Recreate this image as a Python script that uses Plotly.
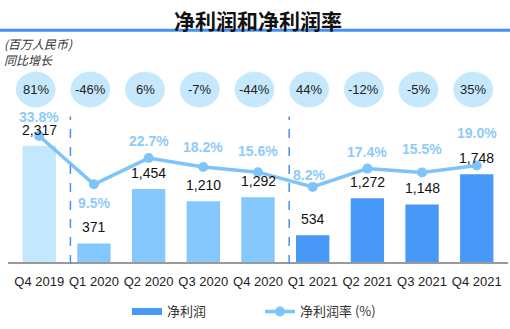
import plotly.graph_objects as go

categories = ["Q4 2019", "Q1 2020", "Q2 2020", "Q3 2020", "Q4 2020",
              "Q1 2021", "Q2 2021", "Q3 2021", "Q4 2021"]
net_profit = [2317, 371, 1454, 1210, 1292, 534, 1272, 1148, 1748]
net_margin = [33.8, 9.5, 22.7, 18.2, 15.6, 8.2, 17.4, 15.5, 19.0]
yoy_growth = ["81%", "-46%", "6%", "-7%", "-44%", "44%", "-12%", "-5%", "35%"]

bar_colors = ["#c3e7fd"] + ["#85c8fd"] * 4 + ["#4898f8"] * 4
LINE_C = "#7fc4f8"
NUM_FONT = "Liberation Sans, Arial, sans-serif"
CJK_FONT = "Noto Sans CJK SC, sans-serif"

# label offsets (pixels) for margin labels
pct_shift = [19, -19, 17, 20, 21, 12, 17, 23, 32]
pct_xshift = [0, 0, 0, 0, 0, -4, 0, 0, 0]

fig = go.Figure()
fig.add_trace(go.Bar(x=categories, y=net_profit, marker_color=bar_colors,
                     marker_line_width=0, showlegend=False, yaxis="y"))
# legend proxy for bars
fig.add_trace(go.Scatter(x=[None], y=[None], mode="lines", name="净利润",
                         line=dict(color="#4898f8", width=7), legend="legend"))
fig.add_trace(go.Scatter(x=categories, y=net_margin, mode="lines+markers",
                         name="净利润率 (%)", yaxis="y2", legend="legend2",
                         line=dict(color=LINE_C, width=3.5),
                         marker=dict(color=LINE_C, size=10)))

ann = []
for i, (c, v) in enumerate(zip(categories, net_profit)):
    ann.append(dict(x=c, y=v, yref="y", text=f"{v:,}", showarrow=False,
                    yshift=16, yanchor="middle",
                    font=dict(family=NUM_FONT, size=14, color="#111")))
for i, (c, p) in enumerate(zip(categories, net_margin)):
    ann.append(dict(x=c, y=p, yref="y2", text=f"{p:.1f}%", showarrow=False,
                    yshift=pct_shift[i], xshift=pct_xshift[i], yanchor="middle",
                    font=dict(family=NUM_FONT, size=14, color="#8ecbf8", weight="bold")))

shapes = []
for i, g in enumerate(yoy_growth):
    xc = i - 0.065
    shapes.append(dict(type="circle", xref="x", yref="paper",
                       x0=xc - 0.36, x1=xc + 0.36, y0=0.798, y1=0.980,
                       fillcolor="#c6e8fc", line=dict(color="#c6e8fc", width=0.5),
                       layer="below"))
    ann.append(dict(x=xc, y=0.889, xref="x", yref="paper", text=g, showarrow=False,
                    xanchor="center", yanchor="middle",
                    font=dict(family=NUM_FONT, size=13, color="#222")))

for xd in [0.57, 4.57]:
    shapes.append(dict(type="line", xref="x", yref="paper", x0=xd, x1=xd,
                       y0=-0.01, y1=0.75, line=dict(color="#4a90f0", width=1.5, dash="dash")))

# title rule
shapes.append(dict(type="line", xref="paper", yref="paper", x0=-0.02, x1=1.01,
                   y0=(266 - 29.5) / 198, y1=(266 - 29.5) / 198,
                   line=dict(color="#4a90f0", width=3)))

ann.append(dict(x=0.5, xref="paper", xanchor="center", y=(266 - 19) / 198, yref="paper",
                yanchor="middle", text="<b>净利润和净利润率</b>", showarrow=False,
                font=dict(family=CJK_FONT, size=21, color="#111", weight=900)))
ann.append(dict(x=-6 / 500, xref="paper", xanchor="left", y=(266 - 43) / 198,
                yref="paper", yanchor="middle", text="<i>(百万人民币)</i>", showarrow=False,
                font=dict(family=CJK_FONT, size=12, color="#333")))
ann.append(dict(x=-6 / 500, xref="paper", xanchor="left", y=(266 - 59) / 198,
                yref="paper", yanchor="middle", text="<i>同比增长</i>", showarrow=False,
                font=dict(family=CJK_FONT, size=12, color="#333")))

legend_common = dict(orientation="h", xanchor="left", y=-0.255, yanchor="middle",
                     itemwidth=30, font=dict(family=CJK_FONT, size=13, color="#333"),
                     bgcolor="rgba(0,0,0,0)")

fig.update_layout(
    width=510, height=329,
    margin=dict(l=8, r=2, t=68, b=63),
    paper_bgcolor="white", plot_bgcolor="white",
    bargap=0.39,
    xaxis=dict(type="category", showgrid=False, showline=True, linecolor="#9a9a9a",
               linewidth=1.5, ticks="", ticklabelstandoff=7,
               tickfont=dict(family=NUM_FONT, size=13, color="#222")),
    yaxis=dict(range=[0, 3867], visible=False, showgrid=False),
    yaxis2=dict(range=[-29.56, 67.98], overlaying="y", visible=False, showgrid=False),
    legend=dict(x=0.238, **legend_common),
    legend2=dict(x=0.504, **legend_common),
    annotations=ann, shapes=shapes,
    showlegend=True,
)

fig.write_html("out.html")
